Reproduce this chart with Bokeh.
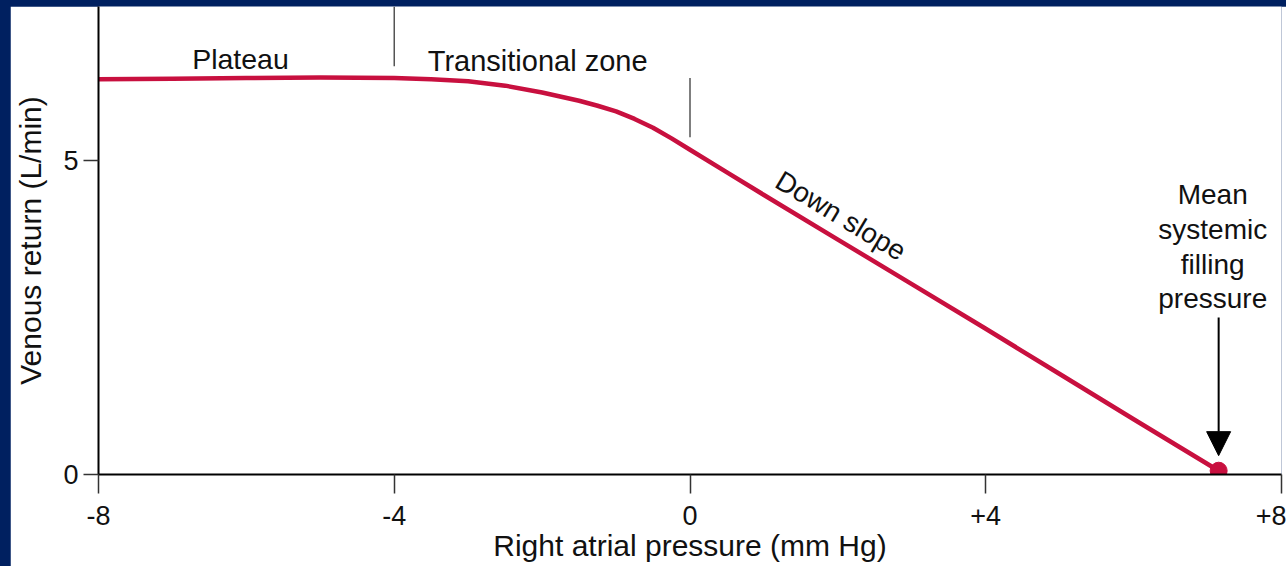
from bokeh.plotting import figure
from bokeh.models import (Range1d, FixedTicker, Label, Arrow, NormalHead,
                          ColumnDataSource, GlobalInlineStyleSheet)
from bokeh.embed import file_html
from bokeh.resources import INLINE

# ---- data ----
rap = [-8, -7, -6, -5, -4, -3.5, -3, -2.5, -2, -1.5, -1.25, -1, -0.75, -0.5,
       -0.25, 0, 0.5, 1, 2, 3, 4, 5, 6, 7.15]
venous_return = [6.29, 6.30, 6.31, 6.32, 6.31, 6.29, 6.26, 6.19, 6.08, 5.95,
                 5.87, 5.78, 5.66, 5.52, 5.35, 5.17, 4.81, 4.45, 3.74, 3.03,
                 2.32, 1.60, 0.88, 0.06]
msfp_x = [7.15]
msfp_y = [0.06]
x_ticks = [-8, -4, 0, 4, 8]
x_tick_labels = ["-8", "-4", "0", "+4", "+8"]
y_ticks = [0, 5]
zone_x = [-4, 0]
zone_y0 = [6.50, 5.37]
zone_y1 = [7.45, 6.31]

FONT = "Liberation Sans"
RED = "#c8103f"
NAVY = "#002060"

p = figure(output_backend="svg", toolbar_location=None,
           x_range=Range1d(-8, 8), y_range=Range1d(0, 7.45),
           frame_width=1183, frame_height=468,
           min_border_left=88, min_border_right=5,
           min_border_top=0, min_border_bottom=92,
           background_fill_color="white", border_fill_color="white")
p.stylesheets = [GlobalInlineStyleSheet(
    css=(f"html, body {{ background: {NAVY}; overflow: hidden; margin: 0; }}"
         " body { padding: 6px 0 0 10px; }"))]
p.outline_line_color = None
p.grid.visible = False

# axes
p.xaxis.ticker = FixedTicker(ticks=x_ticks)
p.xaxis.major_label_overrides = {t: l for t, l in zip(x_ticks, x_tick_labels)}
p.yaxis.ticker = FixedTicker(ticks=y_ticks)
p.xaxis.axis_label = "Right atrial pressure (mm Hg)"
p.yaxis.axis_label = "Venous return (L/min)"
for ax in (p.xaxis, p.yaxis):
    ax.axis_line_color = "black"
    ax.axis_line_width = 2
    ax.major_tick_line_color = "#333333"
    ax.major_tick_line_width = 1.5
    ax.major_tick_in = 0
    ax.minor_tick_line_color = None
    ax.major_label_text_font = FONT
    ax.major_label_text_font_size = "27px"
    ax.major_label_text_color = "#111111"
    ax.axis_label_text_font = FONT
    ax.axis_label_text_font_size = "30px"
    ax.axis_label_text_font_style = "normal"
    ax.axis_label_text_color = "#111111"
p.xaxis.major_tick_out = 19
p.xaxis.major_label_standoff = 12
p.xaxis.axis_label_standoff = 1
p.yaxis.major_tick_out = 15
p.yaxis.major_label_standoff = 5
p.yaxis.axis_label_standoff = 13
p.yaxis.major_label_orientation = "horizontal"

# zone separators
p.segment(x0=zone_x, y0=zone_y0, x1=zone_x, y1=zone_y1,
          line_color="#555555", line_width=1.5)

# curve
src = ColumnDataSource(dict(x=rap, y=venous_return))
p.line("x", "y", source=src, line_color=RED, line_width=4.5,
       line_join="round", line_cap="round")
p.scatter(msfp_x, msfp_y, size=17, fill_color=RED, line_color=RED)

# arrow
p.add_layout(Arrow(x_start=msfp_x[0], y_start=2.50, x_end=msfp_x[0], y_end=0.30,
                   line_color="black", line_width=2,
                   end=NormalHead(size=24, fill_color="black", line_color="black")))

# labels
def lab(x, y, text, **kw):
    p.add_layout(Label(x=x, y=y, text=text, text_font=FONT,
                       text_font_size=kw.pop("size", "28px"),
                       text_color="#111111", **kw))

lab(-6.08, 6.61, "Plateau", size="28.5px", text_align="center",
    text_baseline="alphabetic")
lab(-2.06, 6.59, "Transitional zone", size="29px", text_align="center",
    text_baseline="alphabetic")
lab(2.04, 4.12, "Down slope", text_align="center", text_baseline="middle",
    angle=-31, angle_units="deg")
lab(7.07, 4.7, "Mean\nsystemic\nfilling\npressure", text_align="center",
    text_baseline="top", text_line_height=1.12)

open("out.html", "w").write(file_html(p, INLINE))
